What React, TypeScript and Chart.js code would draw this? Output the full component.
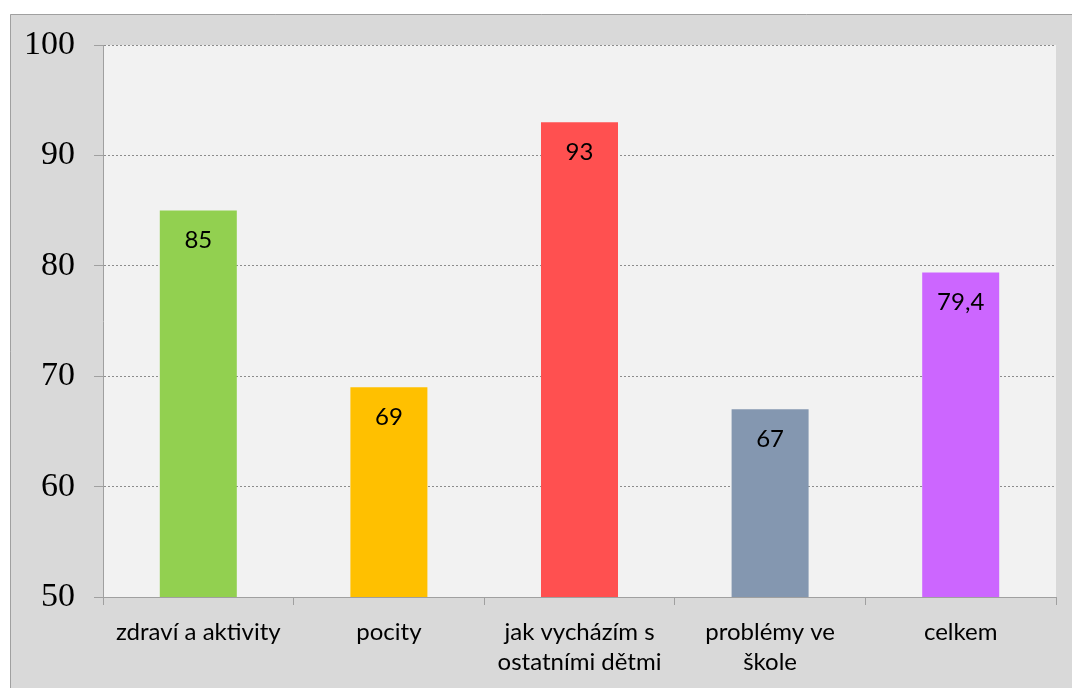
import React, { useEffect, useRef } from "react";
import { Chart, registerables } from "chart.js";

Chart.register(...registerables);

const categories: string[][] = [
  ["zdraví a aktivity"],
  ["pocity"],
  ["jak vycházím s", "ostatními dětmi"],
  ["problémy ve", "škole"],
  ["celkem"],
];
const values: number[] = [85, 69, 93, 67, 79.4];
const barColors: string[] = ["#92d050", "#ffc000", "#ff5050", "#8497b0", "#cc66ff"];
const yTicks: number[] = [50, 60, 70, 80, 90, 100];

const LABEL_FONT = "Lato";

const backgroundPlugin = {
  id: "bgPlugin",
  beforeDraw(chart: any) {
    const { ctx, chartArea } = chart;
    ctx.save();
    ctx.fillStyle = "#ffffff";
    ctx.fillRect(0, 0, chart.width, chart.height);
    ctx.fillStyle = "#d9d9d9";
    ctx.fillRect(10, 14, chart.width - 10, chart.height - 14);
    ctx.strokeStyle = "#a0a0a0";
    ctx.lineWidth = 1;
    ctx.beginPath();
    ctx.moveTo(10.5, chart.height);
    ctx.lineTo(10.5, 14.5);
    ctx.lineTo(chart.width, 14.5);
    ctx.stroke();
    ctx.fillStyle = "#f2f2f2";
    ctx.fillRect(chartArea.left, chartArea.top, chartArea.right - chartArea.left, chartArea.bottom - chartArea.top);
    ctx.restore();
  },
};

const valueLabelPlugin = {
  id: "valueLabels",
  afterDatasetsDraw(chart: any) {
    const { ctx } = chart;
    const meta = chart.getDatasetMeta(0);
    ctx.save();
    ctx.font = `24px ${LABEL_FONT}`;
    ctx.fillStyle = "#000000";
    ctx.textAlign = "center";
    ctx.textBaseline = "middle";
    meta.data.forEach((bar: any, i: number) => {
      const v = chart.data.datasets[0].data[i];
      ctx.fillText(String(v).replace(".", ","), bar.x, bar.y + 30);
    });
    ctx.restore();
  },
};

export default function App() {
  const ref = useRef<HTMLCanvasElement>(null);
  useEffect(() => {
    if (!ref.current) return;
    const chart = new Chart(ref.current, {
      type: "bar",
      data: {
        labels: categories,
        datasets: [
          {
            data: values,
            backgroundColor: barColors,
            barPercentage: 0.404,
            categoryPercentage: 1,
          },
        ],
      },
      options: {
        responsive: false,
        animation: false,
        devicePixelRatio: 1,
        layout: { padding: { top: 45, right: 16, left: 0, bottom: 0 } },
        plugins: {
          legend: { display: false },
          tooltip: { enabled: false },
        },
        scales: {
          x: {
            afterFit(scale: any) {
              scale.height = 91;
            },
            grid: {
              offset: true,
              drawOnChartArea: false,
              drawTicks: true,
              tickLength: 8,
              color: "#a0a0a0",
            },
            border: { color: "#a0a0a0", width: 1 },
            ticks: {
              color: "#000000",
              padding: 12,
              maxRotation: 0,
              autoSkip: false,
              font: { family: LABEL_FONT, size: 24, lineHeight: 1.27 },
            },
          },
          y: {
            min: 50,
            max: 100,
            afterFit(scale: any) {
              scale.width = 103;
            },
            afterBuildTicks(scale: any) {
              scale.ticks = yTicks.map((v) => ({ value: v }));
            },
            grid: {
              color: "#8c8c8c",
              lineWidth: 1,
              tickBorderDash: [],
              tickColor: "#a0a0a0",
              tickLength: 9,
            },
            border: { color: "#a0a0a0", width: 1, dash: [2, 2] },
            ticks: {
              color: "#000000",
              padding: 19,
              font: { family: "Liberation Serif", size: 34 },
            },
          },
        },
      },
      plugins: [backgroundPlugin, valueLabelPlugin],
    });
    return () => chart.destroy();
  }, []);
  return (
    <div style={{ position: "fixed", left: 0, top: 0, width: 1072, height: 688 }}>
      <canvas ref={ref} width={1072} height={688} style={{ display: "block" }} />
    </div>
  );
}
